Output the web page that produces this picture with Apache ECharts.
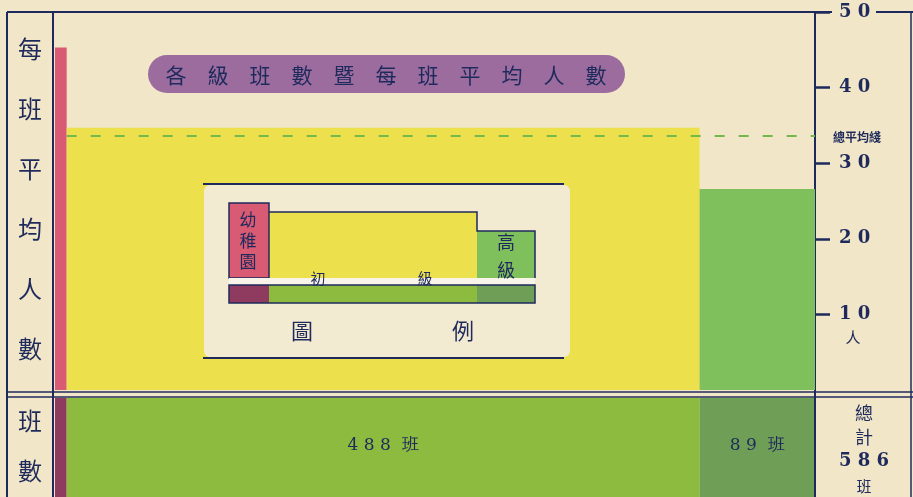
<!DOCTYPE html>
<html>
<head>
<meta charset="utf-8">
<script src="https://cdn.jsdelivr.net/npm/echarts@6/dist/echarts.min.js"></script>
<style>
  html, body { margin: 0; padding: 0; background: #f1e6c7; }
  #main { width: 913px; height: 497px; }
</style>
</head>
<body>
<div id="main"></div>
<script>
// 各級班數暨每班平均人數
const levels = ["幼稚園", "初級", "高級"];
const classCounts = [9, 488, 89];
const avgPerClass = [45.3, 34.7, 26.6];
const totalAvg = 33.6;
const totalClasses = 586;
const yTicks = [0, 10, 20, 30, 40, 50];

const navy = "#1f2a5c";
const cream = "#f1e6c7";
const topColors = ["#d85a73", "#ece04c", "#7fc05c"];
const bottomColors = ["#8e3b5f", "#8dbb40", "#6f9f57"];
const fontCJK = "'Noto Sans CJK TC', 'Noto Sans CJK SC', sans-serif";
const fontNum = "'DejaVu Serif', 'Liberation Serif', serif";

// 累計起迄
var starts = [];
var acc = 0;
for (var i = 0; i < classCounts.length; i++) {
  starts.push(acc);
  acc += classCounts[i];
}
var topData = [];
var bottomData = [];
for (var i = 0; i < levels.length; i++) {
  topData.push([starts[i], starts[i] + classCounts[i], avgPerClass[i], i]);
  bottomData.push([starts[i], starts[i] + classCounts[i], 1, i]);
}

function spaced(s) {
  return String(s).split("").join(" ");
}

var myChart = echarts.init(document.getElementById("main"));

function renderTop(params, api) {
  var a = api.coord([api.value(0), 0]);
  var b = api.coord([api.value(1), api.value(2)]);
  return {
    type: "rect",
    shape: { x: a[0], y: b[1], width: b[0] - a[0], height: a[1] - b[1] },
    style: { fill: topColors[api.value(3)] }
  };
}

function renderBottom(params, api) {
  var idx = api.value(3);
  var a = api.coord([api.value(0), 0]);
  var b = api.coord([api.value(1), 1]);
  var el = {
    type: "rect",
    shape: { x: a[0], y: b[1], width: b[0] - a[0], height: a[1] - b[1] },
    style: { fill: bottomColors[idx] }
  };
  if (idx === 0) return el;
  return {
    type: "group",
    children: [
      el,
      {
        type: "text",
        x: (a[0] + b[0]) / 2,
        y: (a[1] + b[1]) / 2 - 2,
        style: {
          text: spaced(classCounts[idx]) + "  班",
          fontFamily: fontNum,
          fontSize: 17,
          fill: navy,
          align: "center",
          verticalAlign: "middle"
        }
      }
    ]
  };
}

function hline(y, x1, x2, w) {
  return { type: "line", z: 100, shape: { x1: x1, y1: y, x2: x2, y2: y }, style: { stroke: navy, lineWidth: w } };
}
function vline(x, y1, y2, w) {
  return { type: "line", z: 100, shape: { x1: x, y1: y1, x2: x, y2: y2 }, style: { stroke: navy, lineWidth: w } };
}
function txt(x, y, s, size, family, extra) {
  var o = {
    type: "text", z: 110, x: x, y: y,
    style: { text: s, fontSize: size, fontFamily: family, fill: navy, align: "center", verticalAlign: "middle" }
  };
  if (extra) for (var k in extra) o.style[k] = extra[k];
  return o;
}
function box(x, y, w, h, fill, stroke) {
  return {
    type: "rect", z: 105, shape: { x: x, y: y, width: w, height: h },
    style: { fill: fill, stroke: stroke || null, lineWidth: stroke ? 1.5 : 0 }
  };
}

var graphics = [
  // 外框
  hline(12, 7, 832, 2),
  hline(12, 876, 913, 2),
  vline(7, 12, 497, 2),
  vline(53, 12, 497, 2),
  vline(815, 390, 497, 2),
  vline(911, 12, 497, 1.5),
  hline(392, 7, 913, 1.5),
  hline(397, 7, 913, 1.5),
  // 左欄
  txt(30, 199, "每\n班\n平\n均\n人\n數", 24, fontCJK, { lineHeight: 60 }),
  txt(30, 446, "班\n數", 24, fontCJK, { lineHeight: 50 }),
  // 右欄
  txt(864, 425, "總\n計", 18, fontCJK, { lineHeight: 24 }),
  txt(864, 461, "5 8 6", 18, fontNum, { fontWeight: "bold" }),
  txt(864, 486, "班", 15, fontCJK),
  txt(853, 337, "人", 15, fontCJK),
  txt(857, 137, "總平均綫", 12, fontCJK, { fontWeight: "bold" }),
  // 標題
  {
    type: "rect", z: 105,
    shape: { x: 148, y: 55, width: 477, height: 38, r: 19 },
    style: { fill: "#9c6c9f" }
  },
  txt(386, 75, "各　級　班　數　暨　每　班　平　均　人　數", 21, fontCJK),
  // 圖例
  { type: "rect", z: 104, shape: { x: 204, y: 185, width: 366, height: 172, r: 6 }, style: { fill: "#f3ead2" } },
  hline(184, 203, 564, 2),
  hline(358, 203, 564, 2),
  box(269, 212, 208, 66, topColors[1]),
  box(477, 231, 58, 47, topColors[2]),
  {
    type: "polyline", z: 106,
    shape: { points: [[269, 212], [477, 212], [477, 231], [535, 231], [535, 278]] },
    style: { stroke: navy, lineWidth: 1.5, fill: null }
  },
  box(229, 203, 40, 75, topColors[0], navy),
  box(229, 278, 306, 7, "#f8f4ea"),
  hline(278, 233, 535, 1.5),
  hline(285, 229, 535, 1.5),
  box(229, 285, 40, 18, bottomColors[0]),
  box(269, 285, 208, 18, bottomColors[1]),
  box(477, 285, 58, 18, bottomColors[2]),
  {
    type: "rect", z: 107, shape: { x: 229, y: 285, width: 306, height: 18 },
    style: { fill: null, stroke: navy, lineWidth: 1.5 }
  },
  txt(248, 241, "幼\n稚\n園", 17, fontCJK, { lineHeight: 21 }),
  txt(318, 278, "初", 15, fontCJK),
  txt(425, 278, "級", 15, fontCJK),
  txt(506, 256, "高\n級", 18, fontCJK, { lineHeight: 28 }),
  txt(302, 331, "圖", 22, fontCJK),
  txt(463, 331, "例", 22, fontCJK)
];

var option = {
  backgroundColor: cream,
  animation: false,
  grid: [
    { left: 55, right: 98, top: 12, bottom: 107 },
    { left: 55, right: 98, top: 398, bottom: 0 }
  ],
  xAxis: [
    { type: "value", gridIndex: 0, min: 0, max: totalClasses, show: false },
    { type: "value", gridIndex: 1, min: 0, max: totalClasses, show: false }
  ],
  yAxis: [
    {
      type: "value", gridIndex: 0, position: "right",
      min: yTicks[0], max: yTicks[yTicks.length - 1], interval: 10,
      splitLine: { show: false },
      axisLine: { show: true, onZero: false, lineStyle: { color: navy, width: 2 } },
      axisTick: { show: true, length: 15, lineStyle: { color: navy, width: 2.5 } },
      axisLabel: {
        showMinLabel: false,
        margin: 24,
        color: navy,
        fontFamily: fontNum,
        fontWeight: "bold",
        fontSize: 18
      }
    },
    { type: "value", gridIndex: 1, min: 0, max: 1, show: false }
  ],
  graphic: graphics,
  series: [
    {
      type: "custom",
      name: "每班平均人數",
      xAxisIndex: 0, yAxisIndex: 0,
      renderItem: renderTop,
      data: topData,
      z: 2,
      markLine: {
        silent: true,
        symbol: "none",
        label: { show: false },
        lineStyle: { color: "#74b84e", type: [10, 14], width: 2 },
        data: [[{ coord: [starts[1], totalAvg] }, { coord: [totalClasses, totalAvg] }]]
      }
    },
    {
      type: "custom",
      name: "班數",
      xAxisIndex: 1, yAxisIndex: 1,
      renderItem: renderBottom,
      data: bottomData,
      z: 2
    }
  ]
};

// 刻度文字加空格
option.yAxis[0].axisLabel.formatter = function (v) { return spaced(v); };

myChart.setOption(option);
</script>
</body>
</html>
